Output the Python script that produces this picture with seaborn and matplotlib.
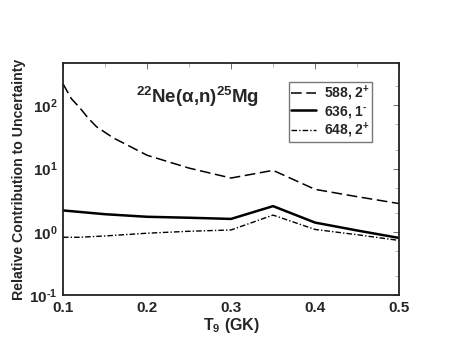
import numpy as np
import pandas as pd
import matplotlib
matplotlib.use("Agg")
import matplotlib.pyplot as plt
import seaborn as sns
from matplotlib.ticker import LogLocator, FixedLocator, MultipleLocator, NullFormatter

# Data
t9_588 = [0.10, 0.11, 0.12, 0.13, 0.14, 0.16, 0.18, 0.20, 0.25, 0.30, 0.35, 0.40, 0.45, 0.50]
val_588 = [220, 128, 92, 63, 46, 30.6, 22.4, 16.3, 10.2, 7.1, 9.4, 4.7, 3.6, 2.8]
t9_636 = [0.10, 0.15, 0.20, 0.25, 0.30, 0.35, 0.40, 0.45, 0.50]
val_636 = [2.18, 1.9, 1.73, 1.67, 1.6, 2.55, 1.4, 1.05, 0.80]
t9_648 = [0.10, 0.12, 0.15, 0.20, 0.25, 0.30, 0.35, 0.40, 0.45, 0.50]
val_648 = [0.82, 0.82, 0.86, 0.95, 1.02, 1.07, 1.84, 1.09, 0.90, 0.73]
labels = ["588, 2$^{+}$", "636, 1$^{\\text{-}}$", "648, 2$^{+}$"]
x_ticks = [0.1, 0.2, 0.3, 0.4, 0.5]
x_ticklabels = ["0.1", "0.2", "0.3", "0.4", "0.5"]
y_ticks = [0.1, 1, 10, 100]
y_ticklabels = ["10$^{\\text{-}1}$", "10$^{0}$", "10$^{1}$", "10$^{2}$"]

sns.set_style("white")
plt.rcParams["font.family"] = ["Liberation Sans", "DejaVu Sans"]
plt.rcParams["font.weight"] = "bold"
plt.rcParams["mathtext.fontset"] = "custom"
plt.rcParams["mathtext.rm"] = "Liberation Sans:bold"
plt.rcParams["mathtext.it"] = "Liberation Sans:bold"
plt.rcParams["mathtext.bf"] = "Liberation Sans:bold"
plt.rcParams["mathtext.default"] = "rm"

fig = plt.figure(figsize=(4.63, 3.58), dpi=100)
ax = fig.add_axes([0.136, 0.176, 0.726, 0.648])

df1 = pd.DataFrame({"T9": t9_588, "v": val_588})
df2 = pd.DataFrame({"T9": t9_636, "v": val_636})
df3 = pd.DataFrame({"T9": t9_648, "v": val_648})

sns.lineplot(data=df1, x="T9", y="v", ax=ax, color="black", lw=1.1,
             label=labels[0], linestyle=(0, (7, 3)))
sns.lineplot(data=df2, x="T9", y="v", ax=ax, color="black", lw=1.8,
             label=labels[1])
sns.lineplot(data=df3, x="T9", y="v", ax=ax, color="black", lw=1.0,
             label=labels[2], linestyle=(0, (4, 1.5, 1, 1.5)))

ax.set_yscale("log")
ax.set_xlim(0.1, 0.5)
ax.set_ylim(0.1, 470)
ax.set_xticks(x_ticks)
ax.set_xticklabels(x_ticklabels)
ax.xaxis.set_minor_locator(MultipleLocator(0.05))
ax.yaxis.set_major_locator(FixedLocator(y_ticks))
ax.yaxis.set_minor_locator(LogLocator(base=10, subs=(2.0, 5.0)))
ax.yaxis.set_minor_formatter(NullFormatter())
ax.set_yticklabels(y_ticklabels)

ax.tick_params(which="both", direction="in", top=True, right=True,
               labelsize=11, pad=4)
ax.tick_params(which="major", length=4, width=0.6, color="#555555")
ax.tick_params(which="minor", length=3, width=0.5, color="#999999")
for lab in ax.get_xticklabels() + ax.get_yticklabels():
    lab.set_fontweight("bold")

for s in ax.spines.values():
    s.set_color("#222222")
    s.set_linewidth(1.3)

ax.set_xlabel("T$_{9}$ (GK)", fontsize=11.5, fontweight="bold", labelpad=1)
ax.set_ylabel("Relative Contribution to Uncertainty", fontsize=10.2,
              fontweight="bold", labelpad=2)

ax.text(0.4, 0.855, "$^{22}$Ne($\\alpha$,n)$^{25}$Mg", transform=ax.transAxes,
        ha="center", va="center", fontsize=13.5, fontweight="bold")

leg = ax.legend(loc="upper right", bbox_to_anchor=(0.92, 0.92),
                frameon=True, fancybox=False, fontsize=10, handlelength=1.8,
                borderpad=0.15, labelspacing=0.05, handletextpad=0.6,
                borderaxespad=0)
leg.get_frame().set_edgecolor("#555555")
leg.get_frame().set_linewidth(1.0)
for t in leg.get_texts():
    t.set_fontweight("bold")

fig.savefig("out.png", dpi=100)
